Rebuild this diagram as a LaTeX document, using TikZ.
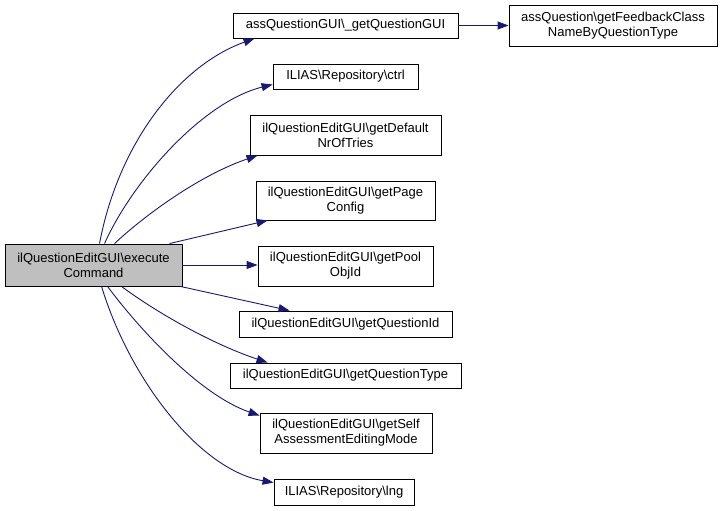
\documentclass[tikz,border=0pt]{standalone}
\usepackage{fontspec}
\setmainfont{Liberation Sans}
\usetikzlibrary{arrows.meta}
\definecolor{edgeblue}{HTML}{191970}
\definecolor{maingray}{HTML}{BFBFBF}
\begin{document}
\begin{tikzpicture}[x=1pt,y=-1pt,
  box/.style={draw=black, line width=0.9pt, fill=white, inner sep=0pt, align=center,
    font=\fontsize{13}{15}\selectfont},
  edge/.style={draw=edgeblue, line width=0.9pt, -{Triangle[length=11pt,width=8pt]}}]
\useasboundingbox (0,0) rectangle (723,511);
\node[box, fill=maingray, minimum width=177pt, minimum height=42pt] (main) at (93.5,265) {ilQuestionEditGUI\textbackslash execute\\Command};
\node[box, minimum width=225pt, minimum height=25pt] (assq) at (345.5,25.5) {assQuestionGUI\textbackslash \_getQuestionGUI};
\node[box, minimum width=208pt, minimum height=41pt] (fb) at (613,25.5) {assQuestion\textbackslash getFeedbackClass\\NameByQuestionType};
\node[box, minimum width=145pt, minimum height=25pt] (ctrl) at (345.5,76.5) {ILIAS\textbackslash Repository\textbackslash ctrl};
\node[box, minimum width=191pt, minimum height=40pt] (dflt) at (345.5,135) {ilQuestionEditGUI\textbackslash getDefault\\NrOfTries};
\node[box, minimum width=179pt, minimum height=39pt] (page) at (345.5,200.5) {ilQuestionEditGUI\textbackslash getPage\\Config};
\node[box, minimum width=175pt, minimum height=40pt] (pool) at (345.5,266) {ilQuestionEditGUI\textbackslash getPool\\ObjId};
\node[box, minimum width=213pt, minimum height=26pt] (qid) at (345.5,324) {ilQuestionEditGUI\textbackslash getQuestionId};
\node[box, minimum width=231pt, minimum height=25pt] (qtype) at (345.5,375.5) {ilQuestionEditGUI\textbackslash getQuestionType};
\node[box, minimum width=172pt, minimum height=40pt] (self) at (346,433) {ilQuestionEditGUI\textbackslash getSelf\\AssessmentEditingMode};
\node[box, minimum width=140pt, minimum height=26pt] (lng) at (344,492) {ILIAS\textbackslash Repository\textbackslash lng};

\draw[edge] ([xshift=95pt]main.north west) .. controls (118,145) and (178,66) .. ([xshift=22pt]assq.south west);
\draw[edge] ([xshift=100pt]main.north west) .. controls (132,182) and (202,102) .. ([yshift=-8pt]ctrl.west);
\draw[edge] ([xshift=110pt]main.north west) .. controls (145,215) and (200,175) .. ([xshift=8pt]dflt.south west);
\draw[edge] ([xshift=165pt]main.north west) -- ([xshift=12pt]page.south west);
\draw[edge] (main.east) -- (main.east -| pool.west);
\draw[edge] ([xshift=-2pt]main.south east) -- ([xshift=51pt]qid.north west);
\draw[edge] ([xshift=117pt]main.south west) .. controls (160,315) and (215,345) .. ([xshift=38pt]qtype.north west);
\draw[edge] ([xshift=103pt]main.south west) .. controls (140,330) and (200,395) .. ([yshift=-3pt]self.north west);
\draw[edge] ([xshift=97pt]main.south west) .. controls (130,380) and (200,470) .. ([yshift=-4pt]lng.north west);
\draw[edge] (assq.east) -- (assq.east -| fb.west);
\end{tikzpicture}
\end{document}
